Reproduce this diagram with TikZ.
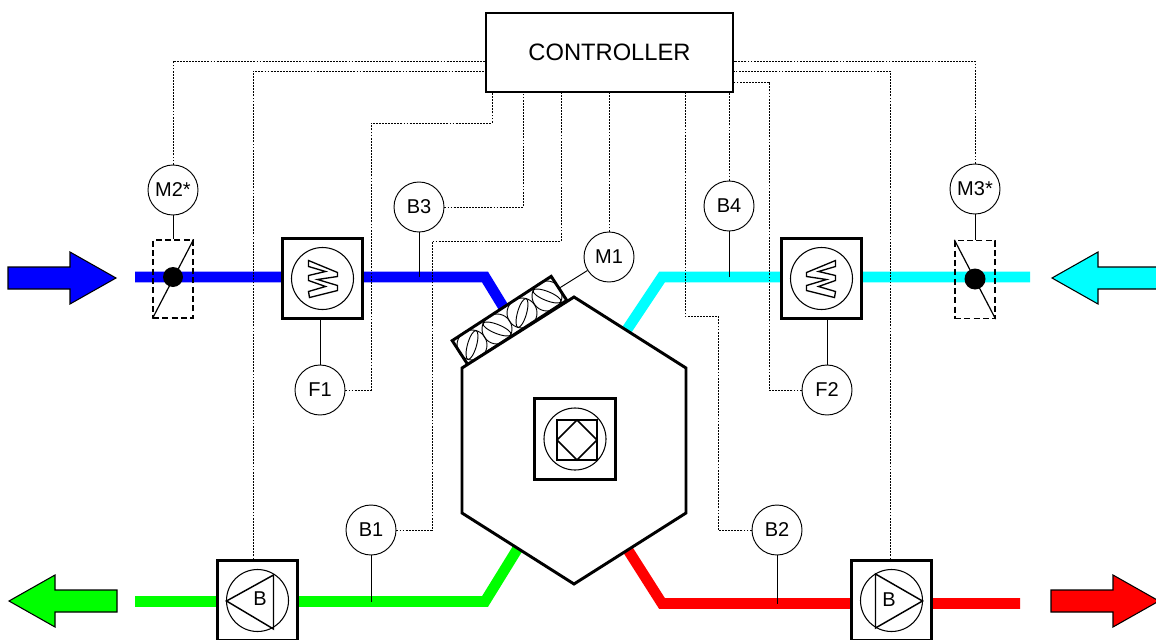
\documentclass[tikz,border=0pt]{standalone}
\usepackage{fontspec}
\setmainfont{Liberation Sans}
\definecolor{airBlue}{RGB}{0,0,255}
\definecolor{airCyan}{RGB}{0,255,255}
\definecolor{airGreen}{RGB}{0,255,0}
\definecolor{airRed}{RGB}{255,0,0}
\begin{document}
\begin{tikzpicture}[x=0.75pt,y=-0.75pt,
duct/.style={line width=8pt},
signal/.style={line width=.7pt,dash pattern=on 1.4pt off .9pt},
tap/.style={line width=.7pt},
sensor/.style={circle,draw,line width=.7pt,fill=white,minimum size=37.5pt,inner sep=0pt,font=\fontsize{15}{17}\selectfont},
unit/.style={draw,line width=2.2pt,fill=white,minimum size=59.5pt,inner sep=0pt},
rotor/.style={circle,draw,line width=.8pt,minimum size=46.5pt,inner sep=0pt},
damper/.style={draw,line width=.9pt,dash pattern=on 4.5pt off 2.5pt,minimum width=30pt,minimum height=58.5pt,inner sep=0pt},
heavy/.style={line width=2.2pt,line join=miter}]
\useasboundingbox (0,0) rectangle (1156,639);

\foreach \ax/\ay/\dir/\col in {8/278/1/airBlue,1160/278/-1/airCyan,117/601/-1/airGreen,1051/601/1/airRed}
\draw[fill=\col,line width=.8pt,shift={(\ax,\ay)},xscale=\dir] (0,-11)--(62,-11)--(62,-26)--(108,0)--(62,26)--(62,11)--(0,11)--cycle;

\coordinate (blueIn) at (135,277);
\coordinate (cyanIn) at (1030,277);
\coordinate (greenOut) at (135,601.5);
\coordinate (redOut) at (1020,603.5);
\draw[duct,airBlue] (blueIn) -- (485,277) -- (507,313);
\draw[duct,airCyan] (cyanIn) -- (662,277) -- (626,331);
\draw[duct,airGreen] (greenOut) -- (485,601.5) -- (518,548);
\draw[duct,airRed] (redOut) -- (662,603.5) -- (628,550);

\node[draw,line width=1.1pt,fill=white,minimum width=185pt,minimum height=59pt,inner sep=0pt,font=\fontsize{17.8}{20}\selectfont] (ctrl) at (609.5,52.5) {CONTROLLER};
\foreach \nm/\lbl/\px/\py in {M2/M2*/173/190,B3/B3/419/207,M1/M1/609/257,B4/B4/729/206,M3/M3*/975/189,F1/F1/320/390,F2/F2/827/390,B1/B1/371/530,B2/B2/777/530}
\node[sensor] (\nm) at (\px,\py) {\lbl};

% units on the ducts
\node[unit] (heatA) at (322.5,278.5) {};
\node[unit] (heatB) at (821.5,278.5) {};
\node[unit] (fanA) at (257.5,600.5) {};
\node[unit] (fanB) at (891.5,600.5) {};

% hexagon with the air damper on top
\node[draw,line width=2.2pt,fill=white,rotate=33,minimum width=88.5pt,minimum height=21.5pt,inner sep=0pt] (strip) at (509.5,320.5) {};
\foreach \px/\py/\ang in {472/345/74,497/329/-22,522/313/74,547/296/-22}{
\draw[line width=.7pt] (\px,\py) circle (15);
\draw[line width=.7pt,rotate around={\ang:(\px,\py)}] (\px,\py) ellipse [x radius=15,y radius=4.5];
}
\draw[heavy,fill=white] (574,297)--(686,368)--(686,513)--(574,584)--(462,513)--(462,368)--cycle;
\node[unit,minimum size=61pt] (wheel) at (575,439) {};

\foreach \nm in {heatA,heatB,fanA,fanB,wheel}
\node[rotor] at (\nm) {};
\foreach \nm/\dir in {heatA/1,heatB/-1}
\draw[line width=1pt,shift={(\nm.center)},xscale=\dir] (-14,-18)--(15,-6)--(15,-2)--(-5,1)--(15,7)--(15,12)--(-13,19)--(-14,13)--(3,8)--(-14,2)--(-14,-3)--(3,-7)--(-14,-12)--cycle;
\draw[line width=1.1pt] (fanA.center)++(-31,0.5)--++(47,-26)--++(0,54)--cycle;
\draw[line width=1.1pt] (fanB.center)++(31,0.5)--++(-47,-27)--++(0,54)--cycle;
\node[font=\fontsize{15}{17}\selectfont] at (260,599) {B};
\node[font=\fontsize{15}{17}\selectfont] at (889,600) {B};
\draw[line width=1.2pt,shift={(wheel.center)}] (-18,-19) rectangle (22,21) (2,-19)--(22,1)--(2,21)--(-18,1)--cycle;

% dampers
\node[damper] (dampA) at (173,279) {};
\node[damper] (dampB) at (975,279.5) {};
\draw[line width=.9pt] (dampA.south west) -- (dampA.north east);
\draw[line width=.9pt] (dampB.north west) -- (dampB.south east);
\fill (173,277) circle (10);
\fill (975,279) circle (10.5);

% taps
\draw[tap] (M2) -- (dampA.north);
\draw[tap] (M3) -- (dampB.north);
\draw[tap] (B3) -- (B3 |- blueIn);
\draw[tap] (B4) -- (B4 |- cyanIn);
\draw[tap] (B1) -- (B1 |- greenOut);
\draw[tap] (B2) -- (B2 |- redOut);
\draw[tap] (F1) -- (F1 |- heatA.south);
\draw[tap] (F2) -- (F2 |- heatB.south);
\draw[tap] (M1) -- (strip.east);

% signal lines
\draw[signal] (M2) |- (ctrl.west |- 0,61);
\draw[signal] (fanA.north -| 253,0) |- (ctrl.west |- 0,71);
\draw[signal] (F1) -| (371,123) -| (ctrl.south -| 492,0);
\draw[signal] (B3) -| (ctrl.south -| 523,0);
\draw[signal] (B1) -| (432,241) -| (ctrl.south -| 561,0);
\draw[signal] (M1) -- (ctrl.south -| M1);
\draw[signal] (B2) -| (718,316) -| (ctrl.south -| 685,0);
\draw[signal] (B4) -- (ctrl.south -| B4);
\draw[signal] (F2) -| (769,82) -- (ctrl.east |- 0,82);
\draw[signal] (M3) |- (ctrl.east |- 0,61);
\draw[signal] (fanB.north -| 890,0) |- (ctrl.east |- 0,71);
\end{tikzpicture}
\end{document}
